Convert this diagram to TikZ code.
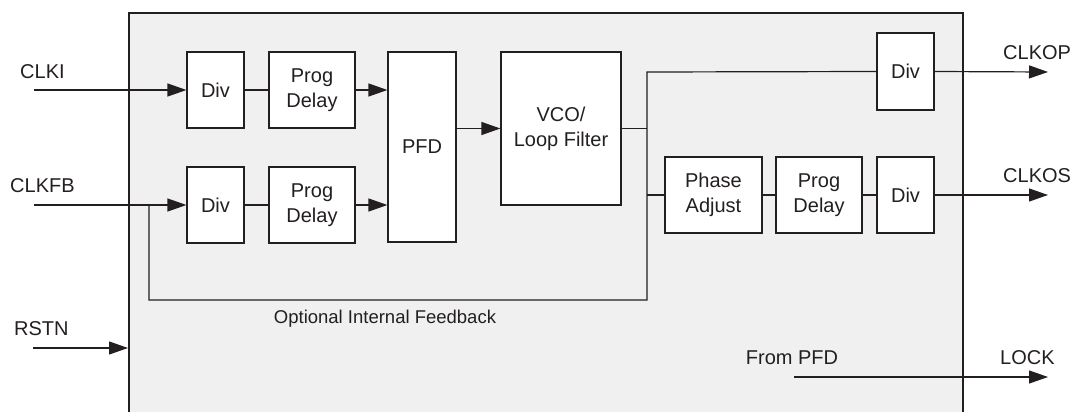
\documentclass[tikz,border=0pt]{standalone}
\usepackage{fontspec}
\setmainfont{Liberation Sans}
\usetikzlibrary{arrows.meta}
\definecolor{panel}{HTML}{F0F0F0}
\definecolor{ink}{HTML}{231F20}
\tikzset{
  blk/.style={draw=ink, fill=white, line width=1.2pt, inner sep=0pt, align=center,
    font=\fontsize{20}{25}\selectfont, text=ink},
  wire/.style={draw=ink, line width=1.2pt},
  arr/.style={wire, -{Triangle[length=19pt,width=13pt]}},
  lbl/.style={inner sep=0pt, font=\fontsize{20}{24}\selectfont, text=ink},
}
\begin{document}
\begin{tikzpicture}[x=1pt,y=-1pt]
\useasboundingbox (0,0) rectangle (1076,412);
\clip (0,0) rectangle (1076,412);
% main panel
\fill[panel] (129,13) rectangle (963,420);
\draw[wire] (129,420) -- (129,13) -- (963,13) -- (963,420);

% blocks
\node[blk, minimum width=57pt, minimum height=76pt] (div1) at (215.5,90) {Div};
\node[blk, minimum width=86pt, minimum height=76pt] (pd1) at (312,90) {Prog\\Delay};
\node[blk, minimum width=57pt, minimum height=76pt] (div2) at (215.5,205) {Div};
\node[blk, minimum width=86pt, minimum height=76pt] (pd2) at (312,205) {Prog\\Delay};
\node[blk, minimum width=68pt, minimum height=190pt] (pfd) at (422,147) {PFD};
\node[blk, minimum width=120pt, minimum height=153pt] (vco) at (561,128.5) {VCO/\\Loop Filter};
\node[blk, minimum width=57pt, minimum height=77pt] (div3) at (905.5,71.5) {Div};
\node[blk, minimum width=97pt, minimum height=76pt] (pa) at (713.5,195) {Phase\\Adjust};
\node[blk, minimum width=86pt, minimum height=76pt] (pd3) at (819,195) {Prog\\Delay};
\node[blk, minimum width=57pt, minimum height=76pt] (div4) at (905.5,195) {Div};

% labels
\node[lbl, anchor=west] (tclki) at (20,72) {CLKI};
\node[lbl, anchor=west] (tclkfb) at (10,186) {CLKFB};
\node[lbl, anchor=west] (trstn) at (14,329) {RSTN};
\node[lbl, anchor=west] (tclkop) at (1003,53) {CLKOP};
\node[lbl, anchor=west] (tclkos) at (1003,176) {CLKOS};
\node[lbl, anchor=west] (tlock) at (1000,358) {LOCK};
\node[lbl] (tfrom) at (792,358) {From PFD};
\node[lbl, font=\fontsize{18.5}{22}\selectfont] (topt) at (385,319) {Optional Internal Feedback};

% coordinates
\coordinate (clki) at (34,90);
\coordinate (clkfb) at (34,205);
\coordinate (rstn) at (33,348);
\coordinate (rstnend) at (128,348);
\coordinate (ja) at (647,72);
\coordinate (jv) at (647,128.5);
\coordinate (jp) at (647,195);
\coordinate (jb) at (647,300);
\coordinate (fb) at (149,300);
\coordinate (fbj) at (149,205);
\coordinate (opend) at (1048,72);
\coordinate (osend) at (1048,195);
\coordinate (lockst) at (794,377);
\coordinate (lockend) at (1048,377);

% connectors
\draw[arr] (clki) -- (div1.west);
\draw[wire] (div1) -- (pd1);
\draw[arr] (pd1.east) -- (pfd.west |- pd1);
\draw[arr] (clkfb) -- (div2.west);
\draw[wire] (div2) -- (pd2);
\draw[arr] (pd2.east) -- (pfd.west |- pd2);
\draw[arr] (pfd.east |- vco) -- (vco.west);
\draw[wire] (vco.east) -- (jv);
\draw[wire] (div3.west) -- (ja) -- (jb) -- (fb) -- (fbj);
\draw[wire] (jp) -- (pa.west);
\draw[wire] (pa) -- (pd3);
\draw[wire] (pd3) -- (div4);
\draw[arr] (div3.east) -- (opend);
\draw[arr] (div4.east) -- (osend);
\draw[arr] (rstn) -- (rstnend);
\draw[arr] (lockst) -- (lockend);
\end{tikzpicture}
\end{document}
